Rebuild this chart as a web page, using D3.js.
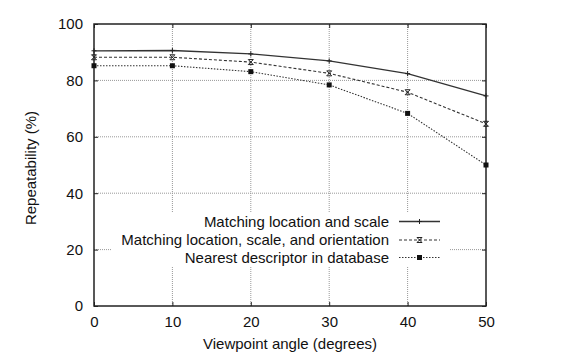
<!DOCTYPE html>
<html><head><meta charset="utf-8">
<script src="https://cdn.jsdelivr.net/npm/d3@7"></script>
<style>body{margin:0;background:#fff}svg{display:block}text{font-family:"Liberation Sans",Arial,sans-serif;fill:#111}</style>
</head><body>
<script>
const angles = [0, 10, 20, 30, 40, 50];
const locScale = [90.5, 90.6, 89.4, 86.9, 82.4, 74.5];
const locScaleOri = [88.2, 88.2, 86.5, 82.5, 75.8, 64.6];
const nearestDb = [85.2, 85.2, 83.1, 78.4, 68.3, 50.0];
const seriesNames = ["Matching location and scale", "Matching location, scale, and orientation", "Nearest descriptor in database"];
const xTicks = [0, 10, 20, 30, 40, 50];
const yTicks = [0, 20, 40, 60, 80, 100];

const W = 561, H = 359;
const m = {l: 94, r: 561 - 486, t: 24, b: 359 - 306};
const svg = d3.select("body").append("svg").attr("width", W).attr("height", H);
const x = d3.scaleLinear().domain([0, 50]).range([m.l, W - m.r]);
const y = d3.scaleLinear().domain([0, 100]).range([H - m.b, m.t]);

// grid
const grid = svg.append("g").attr("stroke", "#999").attr("stroke-width", 1).attr("stroke-dasharray", "1,1");
xTicks.slice(1, -1).forEach(t => grid.append("line").attr("x1", x(t)).attr("x2", x(t)).attr("y1", y(0)).attr("y2", y(100)));
yTicks.slice(1, -1).forEach(t => grid.append("line").attr("x1", x(0)).attr("x2", x(50)).attr("y1", y(t)).attr("y2", y(t)));

// legend background (opaque)
svg.append("rect").attr("x", 112).attr("y", 212).attr("width", 449 - 112).attr("height", 54).attr("fill", "#fff");

// axes with inward ticks
const fs = 15;
svg.append("g").attr("transform", `translate(0,${y(0)})`)
  .call(d3.axisBottom(x).tickValues(xTicks).tickSize(-4).tickPadding(10).tickSizeOuter(0))
  .call(g => g.select(".domain").remove())
  .call(g => g.selectAll("text").attr("font-size", fs).attr("dy", "0.72em"));
svg.append("g").attr("transform", `translate(${x(0)},0)`)
  .call(d3.axisLeft(y).tickValues(yTicks).tickSize(-4).tickPadding(11).tickSizeOuter(0))
  .call(g => g.select(".domain").remove())
  .call(g => g.selectAll("text").attr("font-size", fs));
svg.append("g").attr("transform", `translate(${x(50)},0)`)
  .call(d3.axisRight(y).tickValues(yTicks).tickSize(-4).tickFormat("").tickSizeOuter(0))
  .call(g => g.select(".domain").remove());
svg.append("g").attr("transform", `translate(0,${y(100)})`)
  .call(d3.axisTop(x).tickValues(xTicks).tickSize(-4).tickFormat("").tickSizeOuter(0))
  .call(g => g.select(".domain").remove());
svg.selectAll(".tick line").attr("stroke", "#222");

svg.append("rect").attr("x", x(0)).attr("y", y(100)).attr("width", x(50) - x(0)).attr("height", y(0) - y(100))
  .attr("fill", "none").attr("stroke", "#222").attr("stroke-width", 1.5);

// series
const series = [
  {vals: locScale, dash: null, mark: "plus"},
  {vals: locScaleOri, dash: "3,2", mark: "x"},
  {vals: nearestDb, dash: "1.5,1.5", mark: "sq"}
];
const line = d3.line().x((d, i) => x(angles[i])).y(d => y(d));
function marker(g, cx, cy, type) {
  if (type === "plus") {
    g.append("path").attr("d", `M${cx-2.5},${cy}H${cx+2.5}M${cx},${cy-2.5}V${cy+2.5}`).attr("stroke", "#222").attr("stroke-width", 1);
  } else if (type === "x") {
    g.append("path").attr("d", `M${cx-2.5},${cy-2.5}L${cx+2.5},${cy+2.5}M${cx-2.5},${cy+2.5}L${cx+2.5},${cy-2.5}M${cx-2.5},${cy-2.5}H${cx+2.5}M${cx-2.5},${cy+2.5}H${cx+2.5}`).attr("stroke", "#222").attr("stroke-width", 1);
  } else {
    g.append("rect").attr("x", cx - 2.5).attr("y", cy - 2.5).attr("width", 5).attr("height", 5).attr("fill", "#111");
  }
}
series.forEach(s => {
  svg.append("path").datum(s.vals).attr("d", line).attr("fill", "none").attr("stroke", "#333")
    .attr("stroke-width", s.dash ? 1.1 : 1.3).attr("stroke-dasharray", s.dash);
  const g = svg.append("g");
  s.vals.forEach((v, i) => marker(g, x(angles[i]), y(v), s.mark));
});

// legend
const legY = [221.5, 240, 257.5];
series.forEach((s, i) => {
  svg.append("text").attr("x", 389).attr("y", legY[i]).attr("dy", "0.35em").attr("text-anchor", "end")
    .attr("font-size", fs).text(seriesNames[i]);
  svg.append("line").attr("x1", 399).attr("x2", 440).attr("y1", legY[i]).attr("y2", legY[i])
    .attr("stroke", "#333").attr("stroke-width", s.dash ? 1.1 : 1.3).attr("stroke-dasharray", s.dash);
  marker(svg.append("g"), 419.5, legY[i], s.mark);
});

// axis titles
svg.append("text").attr("x", 290).attr("y", 349).attr("text-anchor", "middle").attr("font-size", fs)
  .text("Viewpoint angle (degrees)");
svg.append("text").attr("transform", "translate(36,168) rotate(-90)").attr("text-anchor", "middle").attr("font-size", fs)
  .text("Repeatability (%)");
</script>
</body></html>
